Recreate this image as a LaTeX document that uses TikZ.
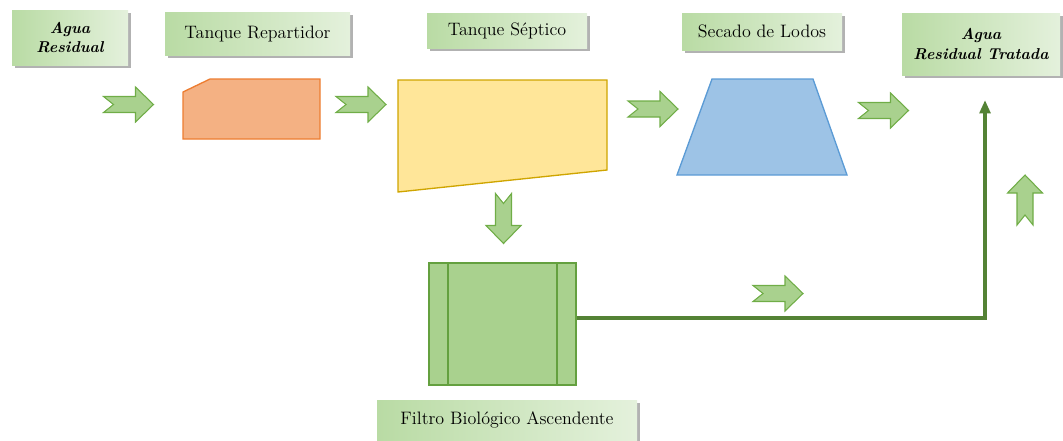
\documentclass[tikz,border=0pt]{standalone}
\usetikzlibrary{shadows,arrows.meta}
\definecolor{etqIzq}{HTML}{B9DBA4}
\definecolor{etqDer}{HTML}{E4F1DC}
\definecolor{flechaRelleno}{HTML}{A9D18E}
\definecolor{flechaBorde}{HTML}{70AD47}
\definecolor{flujoVerde}{HTML}{548235}
\definecolor{naranja}{HTML}{F4B183}
\definecolor{naranjaBorde}{HTML}{ED7D31}
\definecolor{amarillo}{HTML}{FFE699}
\definecolor{amarilloBorde}{HTML}{CFA500}
\definecolor{azul}{HTML}{9DC3E6}
\definecolor{azulBorde}{HTML}{5B9BD5}
\definecolor{filtroBorde}{HTML}{64A03F}
\tikzset{
    etiqueta/.style={shading=axis,left color=etqIzq,right color=etqDer,
        drop shadow={shadow xshift=2pt,shadow yshift=-2pt,fill=black,opacity=0.3},
        font=\fontsize{13.5}{15}\selectfont,align=center,inner sep=0pt},
    enfasis/.style={font=\fontsize{11.8}{14.5}\selectfont\bfseries\itshape},
    flecha/.style={fill=flechaRelleno,draw=flechaBorde,line width=0.8pt,line join=miter},
    flujo/.style={draw=flujoVerde,line width=2.8pt,-{Triangle[length=10pt,width=8pt]}},
    flechabloque/.pic={
        \path[flecha] (-25,-8) -- (7,-8) -- (7,-17.5) -- (25,0) -- (7,17.5)
            -- (7,8) -- (-25,8) -- (-15,0) -- cycle;
    }
}
\begin{document}
\begin{tikzpicture}[x=0.75pt,y=-0.75pt]
    \useasboundingbox (0,0) rectangle (1063,440);
    % etiquetas
    \node[etiqueta,enfasis,minimum width=87pt,minimum height=41.25pt] (entrada) at (70,37.5)
        {Agua\\Residual};
    \node[etiqueta,minimum width=138.75pt,minimum height=32.25pt] (repartidor) at (257.5,33.5)
        {Tanque Repartidor};
    \node[etiqueta,minimum width=120pt,minimum height=26.25pt] (septico) at (507,30.5)
        {Tanque Séptico};
    \node[etiqueta,minimum width=120pt,minimum height=27.75pt] (lodos) at (762,31.5)
        {Secado de Lodos};
    \node[etiqueta,enfasis,minimum width=118.5pt,minimum height=46.5pt] (salida) at (981,44)
        {Agua\\Residual Tratada};
    \node[etiqueta,minimum width=195pt,minimum height=30pt] (lblfiltro) at (507,420)
        {Filtro Biológico Ascendente};
    % unidades
    \draw[fill=naranja,draw=naranjaBorde,line width=1pt]
        (183,92) -- (210,79) -- (320,79) -- (320,139) -- (183,139) -- cycle;
    \draw[fill=amarillo,draw=amarilloBorde,line width=1pt]
        (398,80) -- (607,80) -- (607,170) -- (398,192) -- cycle;
    \draw[fill=azul,draw=azulBorde,line width=1pt]
        (712,79) -- (813,79) -- (847,175) -- (677,175) -- cycle;
    \node[fill=flechaRelleno,draw=filtroBorde,line width=1pt,
        minimum width=110.25pt,minimum height=91.5pt,inner sep=0pt] (filtro) at (502.5,324) {};
    \draw[filtroBorde,line width=1pt] (448,263) -- (448,385) (557,263) -- (557,385);
    % flechas de bloque
    \pic at (128.5,104.5) {flechabloque};
    \pic at (361,104.5) {flechabloque};
    \pic at (653,109) {flechabloque};
    \pic at (883.5,110.5) {flechabloque};
    \pic at (778,293.5) {flechabloque};
    \pic[rotate=-90] at (503.5,218.5) {flechabloque};
    \pic[rotate=90] at (1025,200) {flechabloque};
    % efluente tratado
    \coordinate (codo) at (985,318);
    \coordinate (llegada) at (985,100);
    \draw[flujo] (filtro.east |- codo) -- (codo) -- (llegada);
\end{tikzpicture}
\end{document}
